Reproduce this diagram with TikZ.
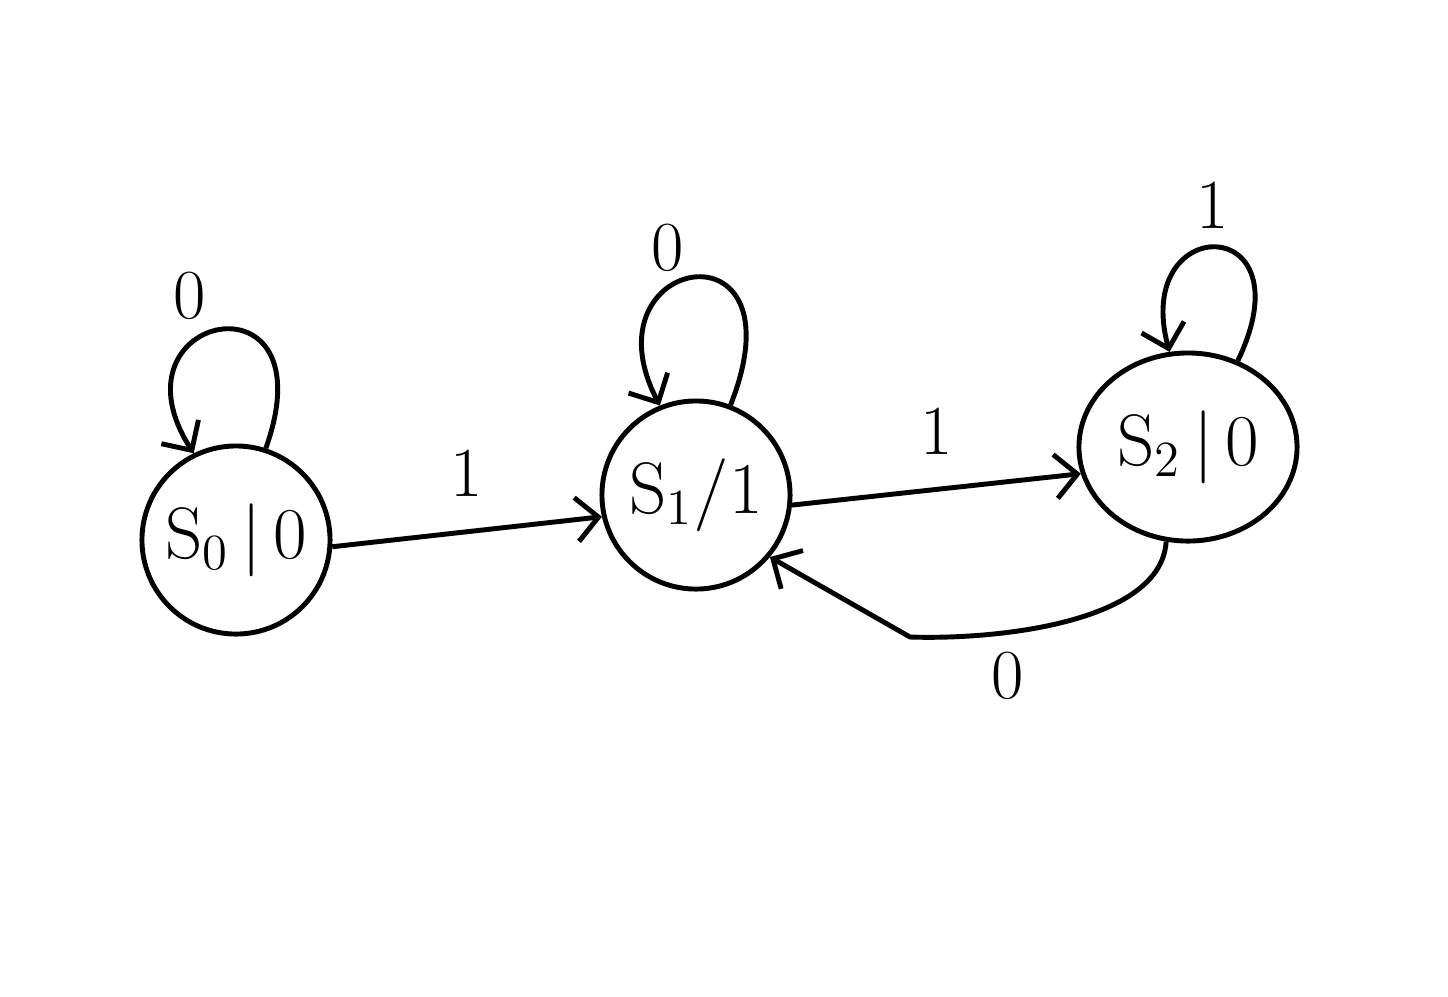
\documentclass[tikz,border=0pt]{standalone}
\usetikzlibrary{arrows.meta,shapes.geometric}
\begin{document}
\begin{tikzpicture}[x=0.01cm,y=-0.01cm,
  line width=1.4pt,
  state/.style={draw,circle,minimum size=1.88cm,inner sep=0pt,font=\fontsize{20}{24}\selectfont},
  wide state/.style={draw,ellipse,minimum width=2.18cm,minimum height=1.88cm,inner sep=0pt,font=\fontsize{20}{24}\selectfont},
  arr/.style={-{Straight Barb[length=2.2mm,width=4.4mm]}},
  lbl/.style={font=\fontsize{20}{24}\selectfont}]
\useasboundingbox (0,0) rectangle (1448,996);

% states of the Moore machine
\node[state] (s0) at (236,540) {$\mathrm{S}_0\,|\,0$};
\node[state] (s1) at (696,495) {$\mathrm{S}_1/1$};
\node[wide state] (s2) at (1188,447) {$\mathrm{S}_2\,|\,0$};

% transitions between states
\draw[arr] (s0.-4) -- node[lbl,above=6pt] (l01) {1} (s1.193);
\draw[arr] (s1.-6) -- node[lbl,above=6pt] (l12) {1} (s2.194);
\coordinate (bend) at (910,637);
\draw[arr] (s2.-103) .. controls +(-5,80) and +(90,3) .. (bend) -- (s1.-40);
\node[lbl] (l21) at (1008,676) {0};

% self loops
\draw[arr] (s0.72) .. controls +(65,-182) and +(-90,-140) .. (s0.116);
\node[lbl] (l00) at (190,296) {0};
\draw[arr] (s1.69) .. controls +(75,-190) and +(-78,-150) .. (s1.112);
\node[lbl] (l11) at (668,248) {0};
\draw[arr] (s2.60) .. controls +(72,-150) and +(-38,-140) .. (s2.101);
\node[lbl] (l22) at (1213,205) {1};
\end{tikzpicture}
\end{document}
